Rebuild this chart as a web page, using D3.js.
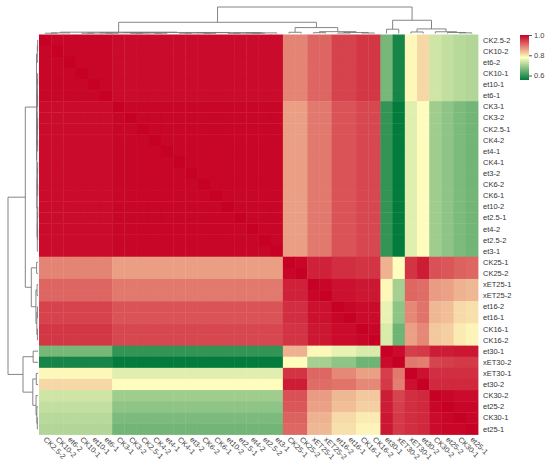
<!DOCTYPE html>
<html>
<head>
<meta charset="utf-8">
<script src="https://cdn.jsdelivr.net/npm/d3@7"></script>
<style>
body { margin: 0; background: #fff; }
svg text { font-family: "Liberation Sans", Arial, sans-serif; }
</style>
</head>
<body>
<div id="container"></div>
<script>
// sample order (same for rows and columns, as clustered)
const samples = ["CK2.5-2","CK10-2","et6-2","CK10-1","et10-1","et6-1","CK3-1","CK3-2","CK2.5-1","CK4-2",
  "et4-1","CK4-1","et3-2","CK6-2","CK6-1","et10-2","et2.5-1","et4-2","et2.5-2","et3-1",
  "CK25-1","CK25-2","xET25-1","xET25-2","et16-2","et16-1","CK16-1","CK16-2",
  "et30-1","xET30-2","xET30-1","et30-2","CK30-2","et25-2","CK30-1","et25-1"];

// correlation values
const corr = [
  [1,.995,.995,.995,.995,.995,.99,.99,.99,.99,.99,.99,.99,.99,.99,.99,.99,.99,.99,.99,.885,.885,.912,.912,.942,.942,.952,.952,.66,.575,.785,.812,.735,.725,.715,.71],
  [.995,1,.995,.995,.995,.995,.99,.99,.99,.99,.99,.99,.99,.99,.99,.99,.99,.99,.99,.99,.885,.885,.912,.912,.942,.942,.952,.952,.66,.575,.785,.812,.735,.725,.715,.71],
  [.995,.995,1,.995,.995,.995,.99,.99,.99,.99,.99,.99,.99,.99,.99,.99,.99,.99,.99,.99,.885,.885,.912,.912,.942,.942,.952,.952,.66,.575,.785,.812,.735,.725,.715,.71],
  [.995,.995,.995,1,.995,.995,.99,.99,.99,.99,.99,.99,.99,.99,.99,.99,.99,.99,.99,.99,.885,.885,.912,.912,.942,.942,.952,.952,.66,.575,.785,.812,.735,.725,.715,.71],
  [.995,.995,.995,.995,1,.995,.99,.99,.99,.99,.99,.99,.99,.99,.99,.99,.99,.99,.99,.99,.885,.885,.912,.912,.942,.942,.952,.952,.66,.575,.785,.812,.735,.725,.715,.71],
  [.995,.995,.995,.995,.995,1,.99,.99,.99,.99,.99,.99,.99,.99,.99,.99,.99,.99,.99,.99,.885,.885,.912,.912,.942,.942,.952,.952,.66,.575,.785,.812,.735,.725,.715,.71],
  [.99,.99,.99,.99,.99,.99,1,.995,.995,.995,.995,.995,.995,.995,.995,.995,.995,.995,.995,.995,.862,.862,.895,.895,.928,.928,.938,.938,.60,.558,.751,.78,.695,.68,.665,.655],
  [.99,.99,.99,.99,.99,.99,.995,1,.995,.995,.995,.995,.995,.995,.995,.995,.995,.995,.995,.995,.862,.862,.895,.895,.928,.928,.938,.938,.60,.558,.751,.78,.695,.68,.665,.655],
  [.99,.99,.99,.99,.99,.99,.995,.995,1,.995,.995,.995,.995,.995,.995,.995,.995,.995,.995,.995,.862,.862,.895,.895,.928,.928,.938,.938,.60,.558,.751,.78,.695,.68,.665,.655],
  [.99,.99,.99,.99,.99,.99,.995,.995,.995,1,.995,.995,.995,.995,.995,.995,.995,.995,.995,.995,.862,.862,.895,.895,.928,.928,.938,.938,.60,.558,.751,.78,.695,.68,.665,.655],
  [.99,.99,.99,.99,.99,.99,.995,.995,.995,.995,1,.995,.995,.995,.995,.995,.995,.995,.995,.995,.862,.862,.895,.895,.928,.928,.938,.938,.60,.558,.751,.78,.695,.68,.665,.655],
  [.99,.99,.99,.99,.99,.99,.995,.995,.995,.995,.995,1,.995,.995,.995,.995,.995,.995,.995,.995,.862,.862,.895,.895,.928,.928,.938,.938,.60,.558,.751,.78,.695,.68,.665,.655],
  [.99,.99,.99,.99,.99,.99,.995,.995,.995,.995,.995,.995,1,.995,.995,.995,.995,.995,.995,.995,.862,.862,.895,.895,.928,.928,.938,.938,.60,.558,.751,.78,.695,.68,.665,.655],
  [.99,.99,.99,.99,.99,.99,.995,.995,.995,.995,.995,.995,.995,1,.995,.995,.995,.995,.995,.995,.862,.862,.895,.895,.928,.928,.938,.938,.60,.558,.751,.78,.695,.68,.665,.655],
  [.99,.99,.99,.99,.99,.99,.995,.995,.995,.995,.995,.995,.995,.995,1,.995,.995,.995,.995,.995,.862,.862,.895,.895,.928,.928,.938,.938,.60,.558,.751,.78,.695,.68,.665,.655],
  [.99,.99,.99,.99,.99,.99,.995,.995,.995,.995,.995,.995,.995,.995,.995,1,.995,.995,.995,.995,.862,.862,.895,.895,.928,.928,.938,.938,.60,.558,.751,.78,.695,.68,.665,.655],
  [.99,.99,.99,.99,.99,.99,.995,.995,.995,.995,.995,.995,.995,.995,.995,.995,1,.995,.995,.995,.862,.862,.895,.895,.928,.928,.938,.938,.60,.558,.751,.78,.695,.68,.665,.655],
  [.99,.99,.99,.99,.99,.99,.995,.995,.995,.995,.995,.995,.995,.995,.995,.995,.995,1,.995,.995,.862,.862,.895,.895,.928,.928,.938,.938,.60,.558,.751,.78,.695,.68,.665,.655],
  [.99,.99,.99,.99,.99,.99,.995,.995,.995,.995,.995,.995,.995,.995,.995,.995,.995,.995,1,.995,.862,.862,.895,.895,.928,.928,.938,.938,.60,.558,.751,.78,.695,.68,.665,.655],
  [.99,.99,.99,.99,.99,.99,.995,.995,.995,.995,.995,.995,.995,.995,.995,.995,.995,.995,.995,1,.862,.862,.895,.895,.928,.928,.938,.938,.60,.558,.751,.78,.695,.68,.665,.655],
  [.885,.885,.885,.885,.885,.885,.862,.862,.862,.862,.862,.862,.862,.862,.862,.862,.862,.862,.862,.862,1,.995,.97,.97,.96,.96,.955,.955,.845,.78,.955,.975,.93,.925,.915,.91],
  [.885,.885,.885,.885,.885,.885,.862,.862,.862,.862,.862,.862,.862,.862,.862,.862,.862,.862,.862,.862,.995,1,.97,.97,.96,.96,.955,.955,.845,.78,.955,.975,.93,.925,.915,.91],
  [.912,.912,.912,.912,.912,.912,.895,.895,.895,.895,.895,.895,.895,.895,.895,.895,.895,.895,.895,.895,.97,.97,1,.995,.985,.985,.98,.98,.785,.70,.91,.905,.865,.86,.845,.84],
  [.912,.912,.912,.912,.912,.912,.895,.895,.895,.895,.895,.895,.895,.895,.895,.895,.895,.895,.895,.895,.97,.97,.995,1,.985,.985,.98,.98,.785,.70,.91,.905,.865,.86,.845,.84],
  [.942,.942,.942,.942,.942,.942,.928,.928,.928,.928,.928,.928,.928,.928,.928,.928,.928,.928,.928,.928,.96,.96,.985,.985,1,.995,.99,.99,.758,.68,.882,.90,.84,.835,.81,.805],
  [.942,.942,.942,.942,.942,.942,.928,.928,.928,.928,.928,.928,.928,.928,.928,.928,.928,.928,.928,.928,.96,.96,.985,.985,.995,1,.99,.99,.758,.68,.882,.90,.84,.835,.81,.805],
  [.952,.952,.952,.952,.952,.952,.938,.938,.938,.938,.938,.938,.938,.938,.938,.938,.938,.938,.938,.938,.955,.955,.98,.98,.99,.99,1,.995,.744,.652,.861,.882,.826,.82,.795,.788],
  [.952,.952,.952,.952,.952,.952,.938,.938,.938,.938,.938,.938,.938,.938,.938,.938,.938,.938,.938,.938,.955,.955,.98,.98,.99,.99,.995,1,.744,.652,.861,.882,.826,.82,.795,.788],
  [.66,.66,.66,.66,.66,.66,.60,.60,.60,.60,.60,.60,.60,.60,.60,.60,.60,.60,.60,.60,.845,.845,.785,.785,.758,.758,.744,.744,1,.99,.945,.95,.975,.975,.98,.98],
  [.575,.575,.575,.575,.575,.575,.558,.558,.558,.558,.558,.558,.558,.558,.558,.558,.558,.558,.558,.558,.78,.78,.70,.70,.68,.68,.652,.652,.99,1,.895,.89,.94,.945,.95,.95],
  [.785,.785,.785,.785,.785,.785,.751,.751,.751,.751,.751,.751,.751,.751,.751,.751,.751,.751,.751,.751,.955,.955,.91,.91,.882,.882,.861,.861,.945,.895,1,.985,.96,.96,.96,.96],
  [.812,.812,.812,.812,.812,.812,.78,.78,.78,.78,.78,.78,.78,.78,.78,.78,.78,.78,.78,.78,.975,.975,.905,.905,.90,.90,.882,.882,.95,.89,.985,1,.965,.965,.965,.965],
  [.735,.735,.735,.735,.735,.735,.695,.695,.695,.695,.695,.695,.695,.695,.695,.695,.695,.695,.695,.695,.93,.93,.865,.865,.84,.84,.826,.826,.975,.94,.96,.965,1,.995,.99,.99],
  [.725,.725,.725,.725,.725,.725,.68,.68,.68,.68,.68,.68,.68,.68,.68,.68,.68,.68,.68,.68,.925,.925,.86,.86,.835,.835,.82,.82,.975,.945,.96,.965,.995,1,.995,.995],
  [.715,.715,.715,.715,.715,.715,.665,.665,.665,.665,.665,.665,.665,.665,.665,.665,.665,.665,.665,.665,.915,.915,.845,.845,.81,.81,.795,.795,.98,.95,.96,.965,.99,.995,1,.995],
  [.71,.71,.71,.71,.71,.71,.655,.655,.655,.655,.655,.655,.655,.655,.655,.655,.655,.655,.655,.655,.91,.91,.84,.84,.805,.805,.788,.788,.98,.95,.96,.965,.99,.995,.995,1]
];

// cluster tree: [mergeHeight, left, right], leaves are sample indices
const tree = [26,
  [11,
    [1.3,
      [0.6, [0.3, 0, 1], 2],
      [1.0,
        [0.7, [0.5, [0.3, 3, 4], [0.35, 5, 6]], [0.45, [0.25, 7, 8], [0.3, 9, 10]]],
        [0.8, [0.5, [0.3, 11, 12], [0.25, 13, 14]], [0.6, [0.4, [0.2, 15, 16], [0.3, 17, 18]], 19]]]],
    [5.8, [1.2, 20, 21], [1.8, [0.8, 22, 23], [1.0, [0.5, 24, 25], [0.5, 26, 27]]]]],
  [13,
    [4.2, 28, 29],
    [4.5, [1.5, 30, 31], [1.7, 32, [1.0, 33, [0.6, 34, 35]]]]]];

const legendTicks = [0.6, 0.8, 1.0];

const width = 550, height = 468;
const n = samples.length;

const svg = d3.select("#container").append("svg")
    .attr("width", width)
    .attr("height", height);

const x = d3.scaleBand().domain(d3.range(n)).range([39, 478]);
const y = d3.scaleBand().domain(d3.range(n)).range([34.5, 434.5]);
const color = d3.scaleLinear()
    .domain([0.556, 0.778, 1.0])
    .range(["#007a3c", "#ffffbf", "#c70025"]);

// heatmap cells
const cells = [];
corr.forEach((row, i) => row.forEach((v, j) => cells.push({ i, j, v })));

svg.append("g")
    .selectAll("rect")
    .data(cells)
  .enter().append("rect")
    .attr("x", d => x(d.j))
    .attr("y", d => y(d.i))
    .attr("width", x.bandwidth() + 0.4)
    .attr("height", y.bandwidth() + 0.4)
    .attr("fill", d => color(d.v));

// dendrograms
const root = d3.hierarchy(tree, d => Array.isArray(d) ? d.slice(1) : null);
root.eachAfter(nd => {
    nd.h = nd.children ? nd.data[0] : 0;
    nd.pos = nd.children ? d3.mean(nd.children, c => c.pos) : nd.data + 0.5;
});
const joins = root.descendants().filter(nd => nd.children);

const colPos = d3.scaleLinear().domain([0, n]).range([39, 478]);
const colH = d3.scaleLinear().domain([0, 26]).range([33.5, 7]);
svg.append("g")
    .selectAll("path")
    .data(joins)
  .enter().append("path")
    .attr("d", d => {
        const [a, b] = d.children;
        return `M${colPos(a.pos)},${colH(a.h)}V${colH(d.h)}H${colPos(b.pos)}V${colH(b.h)}`;
    })
    .attr("fill", "none")
    .attr("stroke", "#777")
    .attr("stroke-width", 0.9);

const rowPos = d3.scaleLinear().domain([0, n]).range([34.5, 434.5]);
const rowH = d3.scaleLinear().domain([0, 26]).range([38, 8]);
svg.append("g")
    .selectAll("path")
    .data(joins)
  .enter().append("path")
    .attr("d", d => {
        const [a, b] = d.children;
        return `M${rowH(a.h)},${rowPos(a.pos)}H${rowH(d.h)}V${rowPos(b.pos)}H${rowH(b.h)}`;
    })
    .attr("fill", "none")
    .attr("stroke", "#777")
    .attr("stroke-width", 0.9);

// row labels
svg.append("g")
    .selectAll("text")
    .data(samples)
  .enter().append("text")
    .attr("x", 483)
    .attr("y", (d, i) => y(i) + y.bandwidth() / 2 + 2.6)
    .attr("font-size", 7.5)
    .attr("fill", "#333")
    .text(d => d);

// column labels
svg.append("g")
    .selectAll("text")
    .data(samples)
  .enter().append("text")
    .attr("transform", (d, i) => `translate(${x(i) + x.bandwidth() / 2 - 2},${440}) rotate(45)`)
    .attr("font-size", 7.5)
    .attr("fill", "#444")
    .text(d => d);

// legend
const defs = svg.append("defs");
const grad = defs.append("linearGradient")
    .attr("id", "legend-grad")
    .attr("x1", 0).attr("y1", 1).attr("x2", 0).attr("y2", 0);
color.domain().forEach((v, k, arr) => {
    grad.append("stop")
        .attr("offset", (v - arr[0]) / (arr[arr.length - 1] - arr[0]))
        .attr("stop-color", color(v));
});

const ly = d3.scaleLinear().domain([0.556, 1.0]).range([80, 35]);
svg.append("rect")
    .attr("x", 520)
    .attr("y", ly(1.0))
    .attr("width", 9)
    .attr("height", ly(0.556) - ly(1.0))
    .attr("fill", "url(#legend-grad)");

const legendAxis = svg.append("g")
    .attr("transform", "translate(529,0)")
    .call(d3.axisRight(ly).tickValues(legendTicks).tickFormat(d3.format(".1f")).tickSize(3).tickPadding(2));
legendAxis.select(".domain").remove();
legendAxis.selectAll("line").attr("stroke", "#555");
legendAxis.selectAll("text")
    .attr("font-size", 7.5)
    .attr("font-family", "Liberation Sans, Arial, sans-serif")
    .attr("fill", "#444");
</script>
</body>
</html>
